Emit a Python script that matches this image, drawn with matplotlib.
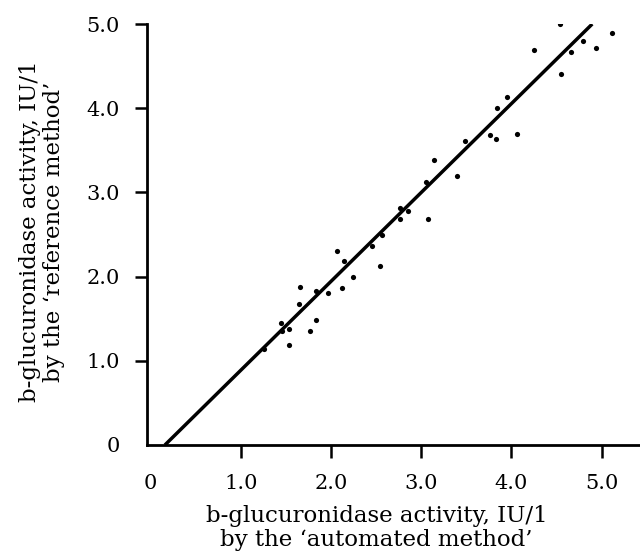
import matplotlib
matplotlib.use("Agg")
import matplotlib.pyplot as plt
import numpy as np

# Data
automated = [1.26, 1.45, 1.46, 1.54, 1.54, 1.65, 1.66, 1.77, 1.83, 1.83,
             1.97, 2.07, 2.12, 2.14, 2.24, 2.45, 2.54, 2.57, 2.76, 2.77,
             2.85, 3.05, 3.08, 3.14, 3.40, 3.48, 3.76, 3.83, 3.84, 3.95,
             4.06, 4.25, 4.54, 4.55, 4.66, 4.79, 4.94, 5.11]
reference = [1.14, 1.45, 1.35, 1.38, 1.19, 1.68, 1.88, 1.35, 1.49, 1.83,
             1.81, 2.30, 1.86, 2.19, 2.00, 2.36, 2.13, 2.49, 2.82, 2.68,
             2.78, 3.12, 2.68, 3.38, 3.20, 3.61, 3.68, 3.63, 4.00, 4.13,
             3.69, 4.69, 5.00, 4.41, 4.67, 4.80, 4.71, 4.89]
fit_slope = 1.056
fit_intercept = -0.169

tick_values = [0, 1, 2, 3, 4, 5]
tick_labels = ["0", "1.0", "2.0", "3.0", "4.0", "5.0"]

plt.rcParams['font.family'] = ['DejaVu Serif']

fig = plt.figure(figsize=(6.4, 5.56), dpi=100)
ax = fig.add_axes([146.5 / 640, 111 / 556, (640 - 146.5) / 640, (445 - 24) / 556])

ax.scatter(automated, reference, s=14, color='black', zorder=3, linewidths=0)

x0 = (0 - fit_intercept) / fit_slope
x1 = (5 - fit_intercept) / fit_slope
xs = np.array([x0, x1])
ax.plot(xs, fit_slope * xs + fit_intercept, color='black', lw=2.5,
        solid_capstyle='butt', zorder=2)

ax.set_xlim(-0.044, 5.424)
ax.set_ylim(0, 5)
ax.spines['top'].set_visible(False)
ax.spines['right'].set_visible(False)
for s in ['left', 'bottom']:
    ax.spines[s].set_linewidth(2.0)

ax.set_xticks(tick_values)
ax.set_xticklabels(tick_labels)
ax.set_yticks(tick_values)
ax.set_yticklabels(tick_labels)
ax.tick_params(axis='both', direction='out', length=9, width=1.8,
               labelsize=15)
ax.tick_params(axis='x', pad=12)
ax.tick_params(axis='y', pad=10)
ax.xaxis.get_major_ticks()[0].tick1line.set_visible(False)
ax.yaxis.get_major_ticks()[0].tick1line.set_visible(False)

ax.set_xlabel("b-glucuronidase activity, IU/1\nby the \u2018automated method\u2019",
              fontsize=16.5, linespacing=1.1)
ax.xaxis.set_label_coords(0.466, -0.143)
ax.set_ylabel("b-glucuronidase activity, IU/1\nby the \u2018reference method\u2019",
              fontsize=16.5, linespacing=1.1)
ax.yaxis.set_label_coords(-0.165, 0.507)

fig.savefig("out.png", dpi=100)
